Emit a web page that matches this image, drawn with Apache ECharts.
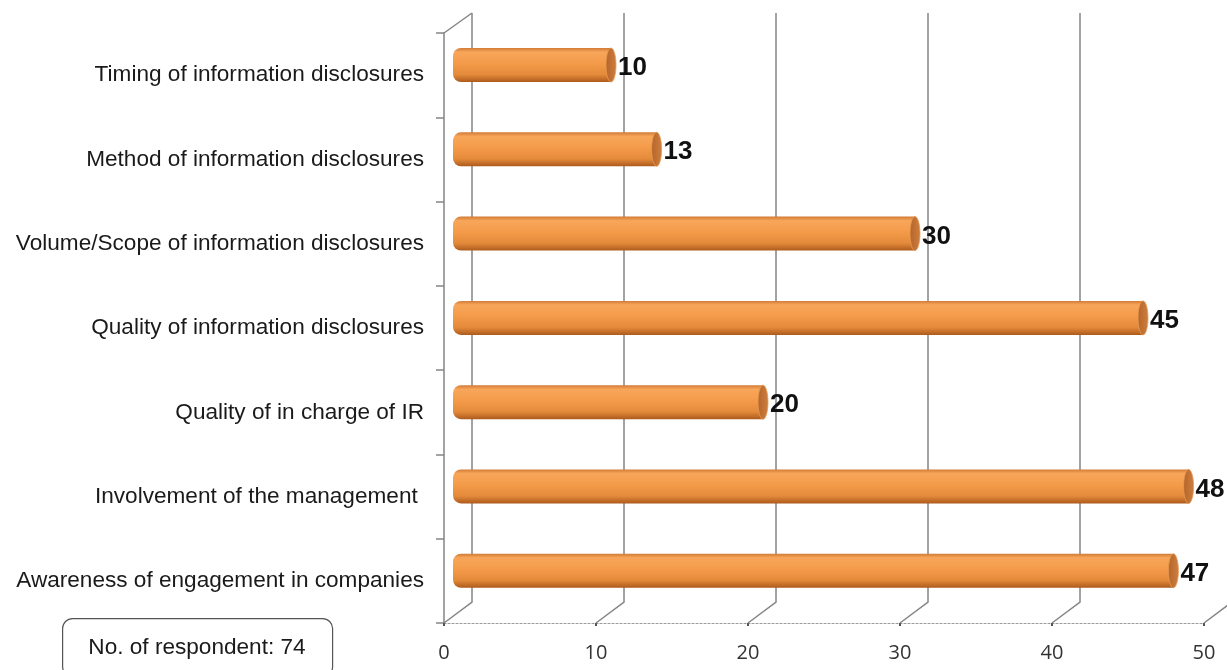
<!DOCTYPE html>
<html>
<head>
<meta charset="utf-8">
<script src="https://cdn.jsdelivr.net/npm/echarts@6/dist/echarts.min.js"></script>
<style>
  html, body { margin: 0; padding: 0; background: #fff; }
  #chart { width: 1227px; height: 670px; }
</style>
</head>
<body>
<div id="chart"></div>
<script>
const categories = [
  'Timing of information disclosures',
  'Method of information disclosures',
  'Volume/Scope of information disclosures',
  'Quality of information disclosures',
  'Quality of in charge of IR',
  'Involvement of the management ',
  'Awareness of engagement in companies'
]
const values = [10, 13, 30, 45, 20, 48, 47]
const xTicks = [0, 10, 20, 30, 40, 50]
const respondentNote = 'No. of respondent: 74'

// perspective offsets (px) between the front floor and the back wall
const DEPTH_X = 28
const DEPTH_Y = 21
const GRID_COLOR = '#858585'

const chart = echarts.init(document.getElementById('chart'))

// back wall gridlines + floor diagonals
const renderWalls = (params, api) => {
  const v = api.value(0)
  const cs = params.coordSys
  const floorY = cs.y + cs.height
  const fx = api.coord([v, 0])[0]
  const bx = fx + DEPTH_X
  const style = { stroke: GRID_COLOR, lineWidth: 1.5, fill: null }
  const children = [{
    type: 'polyline',
    shape: { points: [[bx, cs.y - DEPTH_Y + 1], [bx, floorY - DEPTH_Y], [fx, floorY]] },
    style
  }]
  if (v === 0) {
    children.push({
      type: 'line',
      shape: { x1: fx, y1: cs.y, x2: bx, y2: cs.y - DEPTH_Y + 1 },
      style
    })
  }
  return { type: 'group', children }
}

// horizontal cylinder bars
const renderBar = (params, api) => {
  const i = api.value(0)
  const v = api.value(1)
  const start = api.coord([0, i])
  const end = api.coord([v, i])
  const bandH = api.size([0, 1])[1]
  const cy = start[1] - bandH * 0.12
  const h = 34
  const xL = start[0] + 9
  const xR = end[0] + 20
  const capRx = 5
  const bodyGrad = new echarts.graphic.LinearGradient(0, 0, 0, 1, [
    { offset: 0, color: '#d27a36' },
    { offset: 0.12, color: '#f7a65a' },
    { offset: 0.45, color: '#f49b4a' },
    { offset: 0.78, color: '#e48a3b' },
    { offset: 1, color: '#ad5a1c' }
  ])
  const capGrad = new echarts.graphic.LinearGradient(0, 0, 1, 0, [
    { offset: 0, color: '#b5652a' },
    { offset: 1, color: '#cd7e3f' }
  ])
  return {
    type: 'group',
    children: [
      {
        type: 'rect',
        shape: { x: xL, y: cy - h / 2, width: xR - capRx - xL, height: h, r: [8, 0, 0, 8] },
        style: { fill: bodyGrad }
      },
      {
        type: 'ellipse',
        shape: { cx: xR - capRx, cy, rx: capRx, ry: h / 2 },
        style: { fill: capGrad, stroke: '#e99a52', lineWidth: 0.8 }
      },
      {
        type: 'text',
        style: {
          x: xR + 2,
          y: cy + 3,
          text: String(v),
          fill: '#111',
          font: 'bold 26px "Liberation Sans", Arial, sans-serif',
          verticalAlign: 'middle',
          align: 'left'
        }
      }
    ]
  }
}

const option = {
  animation: false,
  grid: {
    left: 444,
    right: 23,
    top: 33,
    bottom: 47,
    containLabel: false
  },
  xAxis: {
    type: 'value',
    min: 0,
    max: 50,
    interval: 10,
    splitLine: { show: false },
    axisLine: {
      show: true,
      lineStyle: { color: '#9a9a9a', type: [2, 2], width: 1.2 }
    },
    axisTick: {
      show: true,
      length: 3,
      lineStyle: { color: '#555', width: 2 }
    },
    axisLabel: {
      margin: 20,
      color: '#333',
      fontSize: 20,
      fontFamily: '"Open Sans", sans-serif'
    }
  },
  yAxis: {
    type: 'category',
    inverse: true,
    data: categories,
    axisLine: { show: true, lineStyle: { color: GRID_COLOR, width: 1.5 } },
    axisTick: {
      show: true,
      length: 8,
      alignWithLabel: false,
      lineStyle: { color: GRID_COLOR, width: 1.5 }
    },
    splitLine: { show: false },
    axisLabel: {
      margin: 20,
      padding: [6, 0, 0, 0],
      color: '#1a1a1a',
      fontSize: 22.6,
      fontFamily: '"Liberation Sans", Arial, sans-serif'
    }
  },
  series: [
    {
      type: 'custom',
      name: 'walls',
      renderItem: renderWalls,
      data: xTicks.map(t => [t]),
      encode: { x: 0 },
      clip: false,
      silent: true,
      z: 1
    },
    {
      type: 'custom',
      name: 'bars',
      renderItem: renderBar,
      data: values.map((v, i) => [i, v]),
      encode: { y: 0, x: 1 },
      clip: false,
      z: 2
    }
  ],
  graphic: [
    {
      type: 'rect',
      left: 62,
      top: 618,
      shape: { width: 270, height: 58, r: 10 },
      style: { fill: '#fff', stroke: '#555', lineWidth: 1.2 }
    },
    {
      type: 'text',
      x: 197,
      y: 648,
      style: {
        text: respondentNote,
        fill: '#1a1a1a',
        font: '22.6px "Liberation Sans", Arial, sans-serif',
        align: 'center',
        verticalAlign: 'middle'
      }
    }
  ]
}

chart.setOption(option)
</script>
</body>
</html>
